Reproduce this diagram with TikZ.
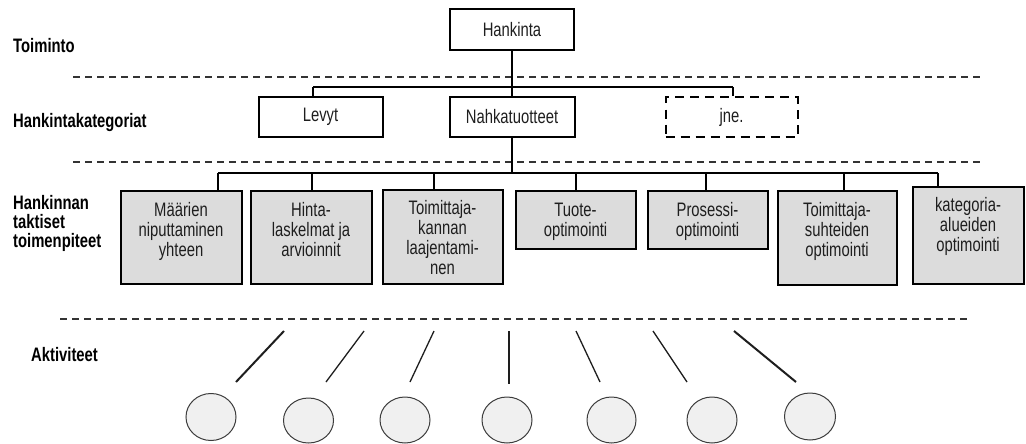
\documentclass[tikz,border=0pt]{standalone}
\usepackage{fontspec}
\setmainfont{Liberation Sans}[FakeStretch=0.76]
\usetikzlibrary{shapes.geometric}
\definecolor{boxgray}{HTML}{DCDCDC}
\definecolor{textdark}{HTML}{1E1E1E}
\definecolor{sepgray}{HTML}{333333}
\definecolor{circgray}{HTML}{3C3C3C}
\definecolor{circfill}{HTML}{F0F0F0}
\begin{document}
\begin{tikzpicture}[x=1pt,y=-1pt,
  box/.style={draw=black,line width=2pt,rectangle,inner sep=0pt},
  topbox/.style={box,fill=white,text=textdark,font=\fontsize{19.5}{20.3}\selectfont},
  tacbox/.style={box,fill=boxgray},
  boxtext/.style={inner sep=0pt,anchor=base,text=textdark,font=\fontsize{19.5}{20.3}\selectfont},
  rowlabel/.style={inner sep=0pt,anchor=base west,font=\bfseries\fontsize{19.5}{19}\selectfont},
  sep/.style={draw=sepgray,line width=1.8pt,dash pattern=on 7pt off 5pt},
  link/.style={line width=1.3pt},
  heavylink/.style={line width=2pt},
  act/.style={ellipse,draw=circgray,fill=circfill,line width=1pt,inner sep=0pt}
]
\useasboundingbox (0,0) rectangle (1026,444);

% layer separators
\coordinate (s1a) at (73,77);  \coordinate (s1b) at (984,77);
\coordinate (s2a) at (73,162); \coordinate (s2b) at (984,162);
\coordinate (s3a) at (60,319); \coordinate (s3b) at (970,319);
\draw[sep] (s1a) -- (s1b);
\draw[sep] (s2a) -- (s2b);
\draw[sep] (s3a) -- (s3b);

% row labels
\node[rowlabel] (lab1) at (13,53) {Toiminto};
\node[rowlabel] (lab2) at (13,128) {Hankintakategoriat};
\node[rowlabel] (lab3) at (13,209) {\parbox[t]{110pt}{\raggedright Hankinnan\\taktiset\\toimenpiteet}};
\node[rowlabel] (lab4) at (31,361) {Aktiviteet};

% function and categories
\node[topbox,minimum width=124pt,minimum height=41pt] (hank) at (512,30) {Hankinta};
\node[topbox,minimum width=124pt,minimum height=39pt] (levyt) at (320.5,117) {Levyt};
\node[topbox,minimum width=125pt,minimum height=39pt] (nahka) at (512,117) {Nahkatuotteet};
\node[topbox,dash pattern=on 9pt off 6pt,minimum width=132pt,minimum height=39pt] (jne) at (731.5,117) {jne.};

\coordinate (b1L) at (313,87);
\coordinate (b1R) at (733,87);
\draw[link] (b1L) -- (b1R);
\draw[link] (b1L) -- (b1L |- levyt.north);
\draw[link] (b1R) -- (b1R |- jne.north);
\draw[link] (hank.south) -- (nahka.north);

% tactical measures
\node[tacbox,minimum width=121pt,minimum height=93pt] (t1) at (181,237) {};
\node[tacbox,minimum width=121pt,minimum height=93pt] (t2) at (311,237) {};
\node[tacbox,minimum width=120pt,minimum height=94pt] (t3) at (442.5,236.5) {};
\node[tacbox,minimum width=120pt,minimum height=58pt] (t4) at (575.5,219.5) {};
\node[tacbox,minimum width=120pt,minimum height=58pt] (t5) at (707.5,219.5) {};
\node[tacbox,minimum width=119pt,minimum height=94pt] (t6) at (837,237.5) {};
\node[tacbox,minimum width=111pt,minimum height=97pt] (t7) at (968,235) {};

\node[boxtext] (x1) at ([yshift=-26.5pt]t1.north) {\parbox[t]{118pt}{\centering Määrien\\niputtaminen\\yhteen}};
\node[boxtext] (x2) at ([yshift=-26.5pt]t2.north) {\parbox[t]{118pt}{\centering Hinta-\\laskelmat ja\\arvioinnit}};
\node[boxtext] (x3) at ([yshift=-25.5pt]t3.north) {\parbox[t]{118pt}{\centering Toimittaja-\\kannan\\laajentami-\\nen}};
\node[boxtext] (x4) at ([yshift=-26.5pt]t4.north) {\parbox[t]{118pt}{\centering Tuote-\\optimointi}};
\node[boxtext] (x5) at ([yshift=-26.5pt]t5.north) {\parbox[t]{118pt}{\centering Prosessi-\\optimointi}};
\node[boxtext] (x6) at ([yshift=-26.5pt]t6.north) {\parbox[t]{118pt}{\centering Toimittaja-\\suhteiden\\optimointi}};
\node[boxtext] (x7) at ([yshift=-25.5pt]t7.north) {\parbox[t]{108pt}{\centering kategoria-\\alueiden\\optimointi}};

\coordinate (b2L) at (218,173);
\coordinate (b2R) at (938,173);
\coordinate (d2) at (312,173);
\coordinate (d3) at (434,173);
\coordinate (d4) at (576,173);
\coordinate (d5) at (706,173);
\coordinate (d6) at (844,173);
\draw[link] (b2L) -- (b2R);
\draw[link] (nahka.south) -- (nahka.south |- b2L);
\draw[link] (b2L) -- (b2L |- t1.north);
\draw[heavylink] (d2) -- (d2 |- t2.north);
\draw[heavylink] (d3) -- (d3 |- t3.north);
\draw[heavylink] (d4) -- (d4 |- t4.north);
\draw[link] (d5) -- (d5 |- t5.north);
\draw[heavylink] (d6) -- (d6 |- t6.north);
\draw[link] (b2R) -- (b2R |- t7.north);

% activities
\node[act,minimum width=50pt,minimum height=47pt] (c1) at (211,417) {};
\node[act,minimum width=50pt,minimum height=45pt] (c2) at (308.5,420.5) {};
\node[act,minimum width=50pt,minimum height=46pt] (c3) at (405,420) {};
\node[act,minimum width=50pt,minimum height=46pt] (c4) at (507,420) {};
\node[act,minimum width=49pt,minimum height=46pt] (c5) at (611.5,420) {};
\node[act,minimum width=50pt,minimum height=46pt] (c6) at (712,420) {};
\node[act,minimum width=51pt,minimum height=47pt] (c7) at (810,416.5) {};

\coordinate (a1t) at (284,331); \coordinate (a1b) at (236,382);
\coordinate (a2t) at (364,331); \coordinate (a2b) at (326,382);
\coordinate (a3t) at (434,331); \coordinate (a3b) at (410,382);
\coordinate (a4t) at (509,331); \coordinate (a4b) at (509,384);
\coordinate (a5t) at (576,331); \coordinate (a5b) at (600,382);
\coordinate (a6t) at (653,331); \coordinate (a6b) at (687,382);
\coordinate (a7t) at (734,331); \coordinate (a7b) at (796,382);
\draw[heavylink,draw=textdark] (a1t) -- (a1b);
\draw[link,draw=textdark] (a2t) -- (a2b);
\draw[link,draw=textdark] (a3t) -- (a3b);
\draw[link,draw=textdark] (a4t) -- (a4b);
\draw[link,draw=textdark] (a5t) -- (a5b);
\draw[link,draw=textdark] (a6t) -- (a6b);
\draw[heavylink,draw=textdark] (a7t) -- (a7b);
\end{tikzpicture}
\end{document}
